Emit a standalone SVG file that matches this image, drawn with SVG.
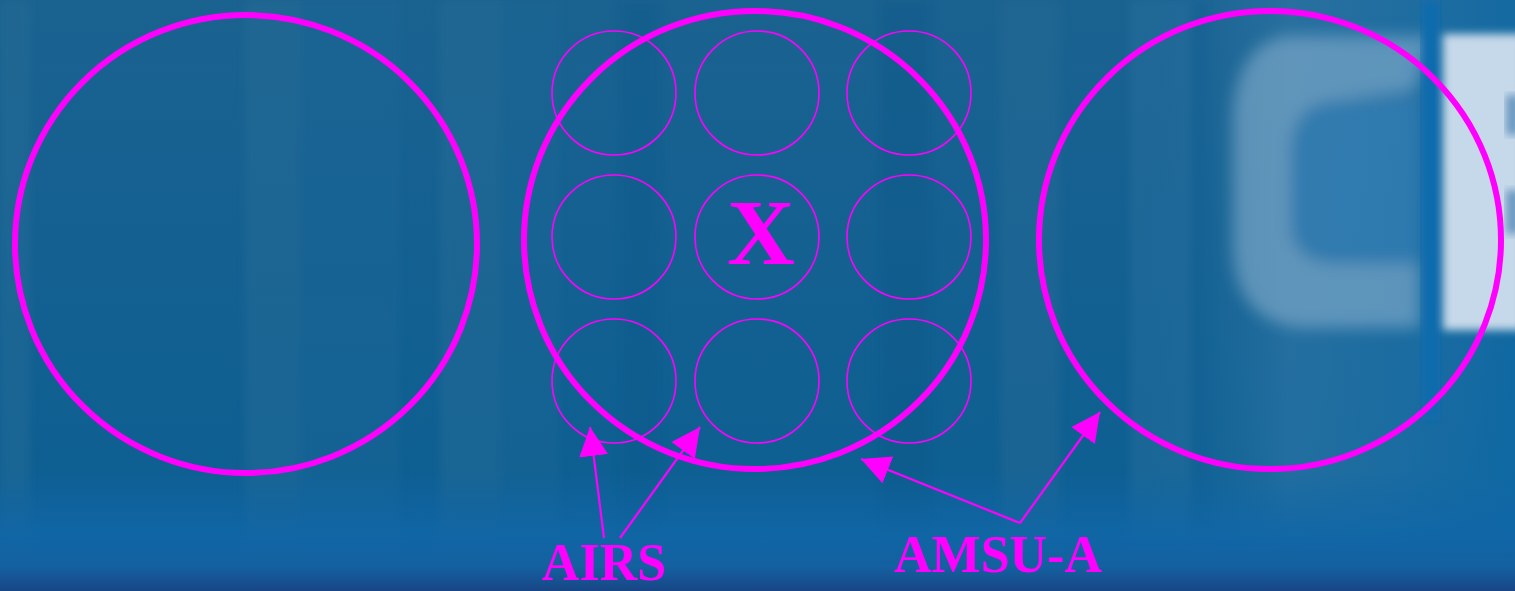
<svg xmlns="http://www.w3.org/2000/svg" width="1515" height="591" viewBox="0 0 1515 591">
<defs>
<linearGradient id="bgv" x1="0" y1="0" x2="0" y2="1">
<stop offset="0" stop-color="#1a6290"/>
<stop offset="0.8" stop-color="#0e5f92"/>
<stop offset="1" stop-color="#0f62a0"/>
</linearGradient>
<linearGradient id="bottom" x1="0" y1="0" x2="0" y2="1">
<stop offset="0" stop-color="#0f64a2" stop-opacity="0"/>
<stop offset="0.55" stop-color="#1066a6" stop-opacity="0.9"/>
<stop offset="0.8" stop-color="#1460a0" stop-opacity="1"/>
<stop offset="1" stop-color="#184686" stop-opacity="1"/>
</linearGradient>
<linearGradient id="bgh" x1="0" y1="0" x2="1" y2="0">
<stop offset="0" stop-color="#0e5e90" stop-opacity="0"/>
<stop offset="0.75" stop-color="#1a6a9c" stop-opacity="0"/>
<stop offset="0.85" stop-color="#3a80b0" stop-opacity="0.45"/>
<stop offset="1" stop-color="#1070b0" stop-opacity="0.55"/>
</linearGradient>
<filter id="blur" x="-10%" y="-10%" width="120%" height="120%"><feGaussianBlur stdDeviation="8"/></filter>
<filter id="soft" x="-10%" y="-10%" width="120%" height="120%"><feGaussianBlur stdDeviation="4"/></filter>
<marker id="ah" viewBox="0 0 10 10" refX="10" refY="5" markerWidth="29" markerHeight="29" markerUnits="userSpaceOnUse" orient="auto">
<path d="M0,0 L10,5 L0,10 Z" fill="#ff00ff"/>
</marker>
<style>
.big{fill:none;stroke:#ff00ff;stroke-width:6}
.small{fill:none;stroke:#ff00ff;stroke-width:1.6}
.conn{fill:none;stroke:#ff00ff;stroke-width:2.2}
.lbl{font-family:"Liberation Serif","Times New Roman",serif;font-weight:bold;fill:#ff00ff;text-anchor:middle}
</style>
</defs>
<g id="background">
<rect x="0" y="0" width="1515" height="591" fill="url(#bgv)"/>
<g filter="url(#soft)" opacity="0.4">
<rect x="0" y="0" width="30" height="591" fill="#2a6e98"/>
<rect x="245" y="0" width="60" height="591" fill="#2a6e98"/>
<rect x="300" y="0" width="100" height="591" fill="#1e6898"/>
<rect x="440" y="0" width="60" height="591" fill="#2a6e98"/>
<rect x="500" y="0" width="60" height="591" fill="#1a6896"/>
<rect x="620" y="0" width="40" height="591" fill="#0a5a8c"/>
<rect x="880" y="0" width="50" height="591" fill="#0a5888"/>
<rect x="1000" y="0" width="60" height="591" fill="#2a6c96"/>
<rect x="1130" y="0" width="70" height="591" fill="#2c72a0"/>
<rect x="1190" y="0" width="20" height="591" fill="#0a5c90"/>
</g>
<rect x="0" y="0" width="1515" height="591" fill="url(#bgh)"/>
<g filter="url(#blur)" opacity="0.8">
<path d="M1290,36 L1432,36 L1415,92 L1340,100 Q1292,102 1290,150 L1290,225 Q1292,262 1335,264 L1420,264 L1420,328 L1300,328 Q1235,320 1233,250 L1233,110 Q1240,40 1290,36 Z" fill="#8fb4d0" opacity="0.7"/>
<path d="M1335,100 L1420,100 L1420,264 L1335,264 Q1292,262 1290,225 L1290,150 Q1292,102 1335,100 Z" fill="#3a84ba" opacity="0.7"/>
</g>
<rect x="1422" y="0" width="18" height="420" fill="#0f6cae" filter="url(#soft)"/>
<rect x="1443" y="34" width="80" height="296" fill="#c6d9ea" filter="url(#soft)"/>
<rect x="1506" y="95" width="14" height="40" fill="#6a98c0" filter="url(#soft)"/>
<rect x="1506" y="190" width="14" height="44" fill="#6a98c0" filter="url(#soft)"/>
<rect x="0" y="470" width="1515" height="121" fill="url(#bottom)"/>
</g>
<g id="fov-left"><ellipse class="big" cx="246" cy="244" rx="231" ry="229"/></g>
<g id="fov-center"><ellipse class="big" cx="755" cy="240" rx="231" ry="229"/></g>
<g id="fov-right"><ellipse class="big" cx="1270" cy="240" rx="231" ry="229"/></g>
<g id="airs-fovs">
<circle class="small" cx="614" cy="93" r="62"/>
<circle class="small" cx="757" cy="93" r="62"/>
<circle class="small" cx="909" cy="93" r="62"/>
<circle class="small" cx="614" cy="237" r="62"/>
<circle class="small" cx="757" cy="237" r="62"/>
<circle class="small" cx="909" cy="237" r="62"/>
<circle class="small" cx="614" cy="381" r="62"/>
<circle class="small" cx="757" cy="381" r="62"/>
<circle class="small" cx="909" cy="381" r="62"/>
</g>
<g id="center-x"><text class="lbl" x="761" y="264" font-size="94">X</text></g>
<g id="connectors">
<line class="conn" x1="604" y1="538" x2="590" y2="427" marker-end="url(#ah)"/>
<line class="conn" x1="620" y1="538" x2="700" y2="427" marker-end="url(#ah)"/>
<line class="conn" x1="1020" y1="523" x2="861" y2="459" marker-end="url(#ah)"/>
<line class="conn" x1="1020" y1="523" x2="1100" y2="412" marker-end="url(#ah)"/>
</g>
<g id="label-airs"><text class="lbl" x="604" y="580" font-size="52">AIRS</text></g>
<g id="label-amsua"><text class="lbl" x="998" y="572" font-size="52">AMSU-A</text></g>
</svg>
